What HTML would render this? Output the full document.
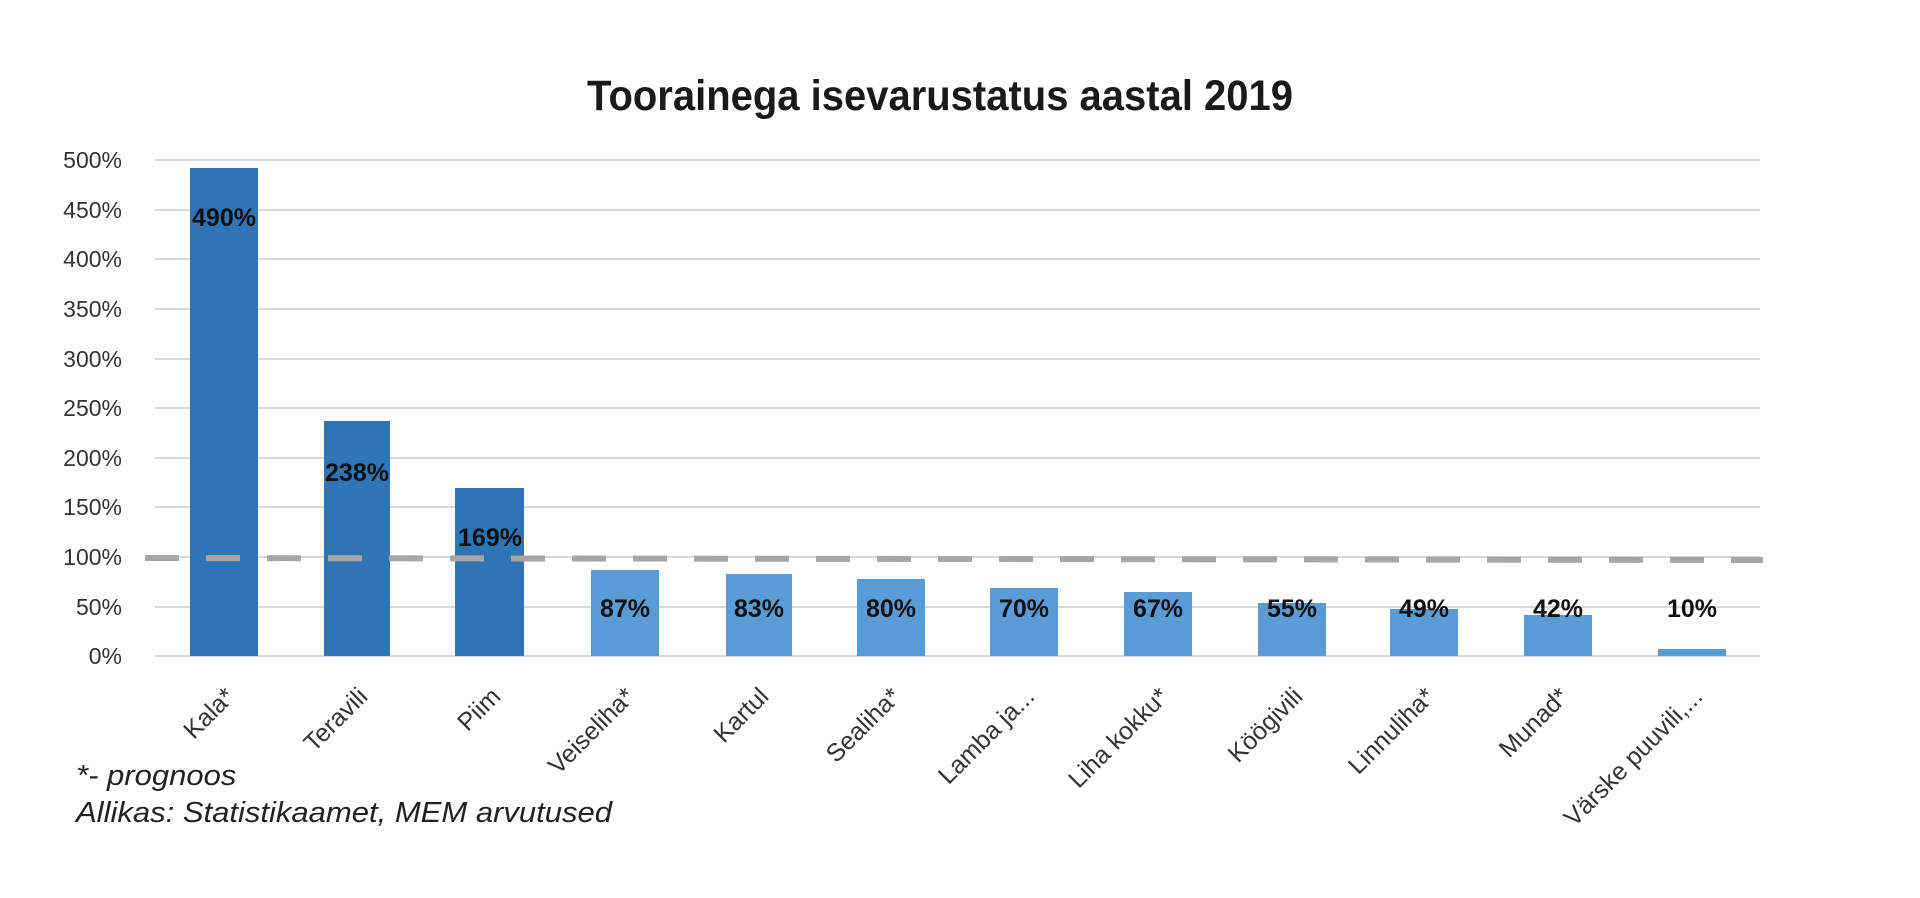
<!DOCTYPE html>
<html><head><meta charset="utf-8"><style>
html,body{margin:0;padding:0;background:#fff;width:1920px;height:898px;overflow:hidden}
svg{display:block}
text{font-family:"Liberation Sans",sans-serif}
</style></head><body>
<svg width="1920" height="898" viewBox="0 0 1920 898" xmlns="http://www.w3.org/2000/svg">
<text x="940" y="110" text-anchor="middle" font-size="43" font-weight="bold" fill="#1a1a1a" transform="translate(940 0) scale(0.93 1) translate(-940 0)">Toorainega isevarustatus aastal 2019</text>
<g stroke="#d9d9d9" stroke-width="2">
<line x1="155" x2="1760" y1="160" y2="160"/><line x1="155" x2="1760" y1="210" y2="210"/>
<line x1="155" x2="1760" y1="259" y2="259"/><line x1="155" x2="1760" y1="309" y2="309"/>
<line x1="155" x2="1760" y1="359" y2="359"/><line x1="155" x2="1760" y1="408" y2="408"/>
<line x1="155" x2="1760" y1="458" y2="458"/><line x1="155" x2="1760" y1="507" y2="507"/>
<line x1="155" x2="1760" y1="557" y2="557"/><line x1="155" x2="1760" y1="607" y2="607"/>
<line x1="155" x2="1760" y1="656" y2="656"/>
</g>
<g font-size="23" fill="#333" text-anchor="end">
<text x="122" y="168">500%</text><text x="122" y="218">450%</text><text x="122" y="267">400%</text>
<text x="122" y="317">350%</text><text x="122" y="367">300%</text><text x="122" y="416">250%</text>
<text x="122" y="466">200%</text><text x="122" y="515">150%</text><text x="122" y="565">100%</text>
<text x="122" y="615">50%</text><text x="122" y="664">0%</text>
</g>
<g fill="#2e75b6">
<rect x="190" y="168" width="68" height="488"/>
<rect x="324" y="421" width="66" height="235"/>
<rect x="455" y="488" width="69" height="168"/>
</g>
<g fill="#5b9bd5">
<rect x="591" y="570" width="68" height="86"/>
<rect x="726" y="574" width="66" height="82"/>
<rect x="857" y="579" width="68" height="77"/>
<rect x="990" y="588" width="68" height="68"/>
<rect x="1124" y="592" width="68" height="64"/>
<rect x="1258" y="603" width="68" height="53"/>
<rect x="1390" y="609" width="68" height="47"/>
<rect x="1524" y="615" width="68" height="41"/>
<rect x="1658" y="649" width="68" height="7"/>
</g>
<line x1="145" x2="1763" y1="558" y2="560" stroke="#a6a6a6" stroke-width="6" stroke-dasharray="34 27"/>
<g font-size="25" font-weight="bold" fill="#111" text-anchor="middle">
<text x="224" y="226">490%</text><text x="357" y="481">238%</text><text x="490" y="546">169%</text>
<text x="625" y="617">87%</text><text x="759" y="617">83%</text><text x="891" y="617">80%</text>
<text x="1024" y="617">70%</text><text x="1158" y="617">67%</text><text x="1292" y="617">55%</text>
<text x="1424" y="617">49%</text><text x="1558" y="617">42%</text><text x="1692" y="617">10%</text>
</g>
<g font-size="25" fill="#333" text-anchor="end">
<text transform="translate(236 698) rotate(-45)">Kala*</text>
<text transform="translate(369 698) rotate(-45)">Teravili</text>
<text transform="translate(502 698) rotate(-45)">Piim</text>
<text transform="translate(636 698) rotate(-45)">Veiseliha*</text>
<text transform="translate(770 698) rotate(-45)">Kartul</text>
<text transform="translate(902 698) rotate(-45)">Sealiha*</text>
<text transform="translate(1036 698) rotate(-45)">Lamba ja...</text>
<text transform="translate(1170 698) rotate(-45)">Liha kokku*</text>
<text transform="translate(1304 698) rotate(-45)">Köögivili</text>
<text transform="translate(1436 698) rotate(-45)">Linnuliha*</text>
<text transform="translate(1570 698) rotate(-45)">Munad*</text>
<text transform="translate(1704 698) rotate(-45)">Värske puuvili,...</text>
</g>
<g font-size="29" font-style="italic" fill="#222" transform="translate(76 0) scale(1.07 1) translate(-76 0)">
<text x="76" y="785">*- prognoos</text>
<text x="76" y="822">Allikas: Statistikaamet, MEM arvutused</text>
</g>
</svg>
</body></html>
